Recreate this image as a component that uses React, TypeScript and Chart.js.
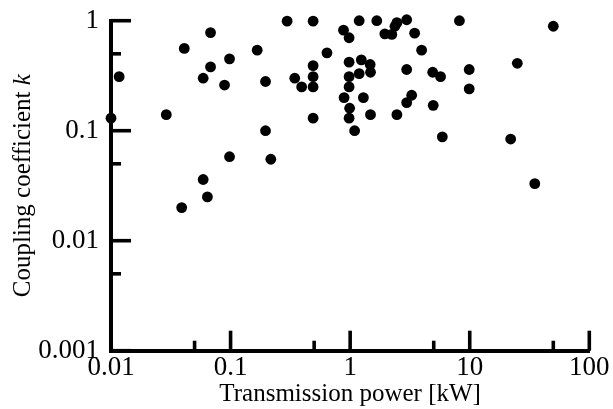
import React, { useEffect, useRef } from "react";
import { Chart, registerables } from "chart.js";

Chart.register(...registerables);

// Transmission power [kW] (x) and coupling coefficient k (y)
const transmissionPowerKW = [
  0.0117, 0.01, 0.029, 0.041, 0.068, 0.068, 0.059, 0.098, 0.089, 0.167,
  0.196, 0.344, 0.393, 0.297, 0.49, 0.49, 0.49, 0.49, 0.49, 0.196,
  0.098, 0.217, 0.059, 0.064, 0.039, 1.19, 1.67, 2.97, 2.46, 2.37,
  8.2, 50, 0.88, 0.98, 1.95, 2.23, 3.46, 0.64, 3.96, 25,
  0.98, 1.24, 1.47, 1.48, 1.19, 0.98, 0.98, 2.97, 4.9, 5.7,
  9.9, 9.9, 0.89, 1.29, 3.27, 2.97, 4.95, 0.99, 0.98, 1.48,
  2.46, 1.09, 5.9, 22, 35,
];
const couplingCoefficient = [
  0.31, 0.13, 0.14, 0.56, 0.78, 0.38, 0.3, 0.45, 0.26, 0.54,
  0.28, 0.3, 0.25, 0.99, 0.99, 0.39, 0.31, 0.25, 0.13, 0.1,
  0.058, 0.055, 0.036, 0.025, 0.02, 1.0, 1.0, 1.02, 0.96, 0.89,
  1.0, 0.89, 0.82, 0.7, 0.76, 0.75, 0.77, 0.51, 0.54, 0.41,
  0.42, 0.44, 0.4, 0.34, 0.33, 0.31, 0.25, 0.36, 0.34, 0.31,
  0.36, 0.24, 0.2, 0.2, 0.21, 0.18, 0.17, 0.16, 0.13, 0.14,
  0.14, 0.1, 0.088, 0.084, 0.033,
];

const xTickValues = [0.01, 0.1, 1, 10, 100];
const yTickValues = [0.001, 0.01, 0.1, 1];
const xMinorTicks = [0.05, 0.5, 5, 50];
const yMinorTicks = [0.005, 0.05, 0.5];

const xTitle = "Transmission power [kW]";
const yTitleMain = "Coupling coefficient ";
const yTitleItalic = "k";

const FAMILY = '"Liberation Serif", "Times New Roman", serif';

const inwardTicksPlugin = {
  id: "inwardTicks",
  afterDraw(chart: any) {
    const { ctx, chartArea, scales } = chart;
    const xs = scales.x;
    const ys = scales.y;
    ctx.save();
    ctx.strokeStyle = "#000";
    ctx.lineWidth = 3.6;
    ctx.lineCap = "butt";
    const left = chartArea.left;
    const bottom = chartArea.bottom;
    yTickValues.forEach((v) => {
      const p = ys.getPixelForValue(v);
      ctx.beginPath();
      ctx.moveTo(left, p);
      ctx.lineTo(left + 20, p);
      ctx.stroke();
    });
    yMinorTicks.forEach((v) => {
      const p = ys.getPixelForValue(v);
      ctx.beginPath();
      ctx.moveTo(left, p);
      ctx.lineTo(left + 10, p);
      ctx.stroke();
    });
    xTickValues.forEach((v) => {
      const p = xs.getPixelForValue(v);
      ctx.beginPath();
      ctx.moveTo(p, bottom);
      ctx.lineTo(p, bottom - 20);
      ctx.stroke();
    });
    xMinorTicks.forEach((v) => {
      const p = xs.getPixelForValue(v);
      ctx.beginPath();
      ctx.moveTo(p, bottom);
      ctx.lineTo(p, bottom - 10);
      ctx.stroke();
    });
    ctx.restore();
  },
};

const yTitlePlugin = {
  id: "yTitleMixed",
  afterDraw(chart: any) {
    const { ctx, chartArea } = chart;
    ctx.save();
    ctx.translate(30, (chartArea.top + chartArea.bottom) / 2);
    ctx.rotate(-Math.PI / 2);
    ctx.fillStyle = "#000";
    ctx.textBaseline = "alphabetic";
    const normal = `25px ${FAMILY}`;
    const italic = `italic 25px ${FAMILY}`;
    ctx.font = normal;
    const w1 = ctx.measureText(yTitleMain).width;
    ctx.font = italic;
    const w2 = ctx.measureText(yTitleItalic).width;
    const x0 = -(w1 + w2) / 2;
    ctx.font = normal;
    ctx.fillText(yTitleMain, x0, 0);
    ctx.font = italic;
    ctx.fillText(yTitleItalic, x0 + w1, 0);
    ctx.restore();
  },
};

export default function App() {
  const canvasRef = useRef<HTMLCanvasElement | null>(null);

  useEffect(() => {
    const canvas = canvasRef.current;
    if (!canvas) return;
    const points = transmissionPowerKW.map((x, i) => ({ x, y: couplingCoefficient[i] }));
    const chart = new Chart(canvas, {
      type: "scatter",
      data: {
        datasets: [
          {
            data: points,
            backgroundColor: "#000",
            borderWidth: 0,
            pointRadius: 5.4,
            pointHoverRadius: 5.4,
            clip: false,
          } as any,
        ],
      },
      options: {
        animation: false,
        responsive: false,
        events: [],
        layout: { padding: { top: 20.7, right: 23.7, left: 0, bottom: 0 } },
        plugins: { legend: { display: false }, tooltip: { enabled: false } },
        scales: {
          x: {
            type: "logarithmic",
            position: "bottom",
            min: 0.01,
            max: 100,
            grid: { display: false },
            border: { display: true, color: "#000", width: 4 },
            afterBuildTicks: (s: any) => {
              s.ticks = xTickValues.map((v) => ({ value: v }));
            },
            afterFit: (s: any) => {
              s.height = 58.3;
            },
            ticks: {
              color: "#000",
              font: { family: FAMILY, size: 27 },
              padding: -7,
              maxRotation: 0,
              autoSkip: false,
              callback: (v: any) => String(v),
            },
            title: {
              display: true,
              text: xTitle,
              color: "#000",
              font: { family: FAMILY, size: 25 },
              padding: { top: 0, bottom: 0 },
            },
          },
          y: {
            type: "logarithmic",
            position: "left",
            min: 0.001,
            max: 1,
            grid: { display: false },
            border: { display: true, color: "#000", width: 4 },
            afterBuildTicks: (s: any) => {
              s.ticks = yTickValues.map((v) => ({ value: v }));
            },
            afterFit: (s: any) => {
              s.width = 111;
            },
            ticks: {
              color: "#000",
              font: { family: FAMILY, size: 27 },
              padding: 4,
              autoSkip: false,
              callback: (v: any) => String(v),
            },
            title: { display: false },
          },
        },
      } as any,
      plugins: [inwardTicksPlugin, yTitlePlugin],
    });
    return () => chart.destroy();
  }, []);

  return (
    <div style={{ position: "absolute", left: 0, top: 0, width: 613, height: 409, background: "#fff" }}>
      <canvas ref={canvasRef} width={613} height={409} style={{ display: "block" }} />
    </div>
  );
}
